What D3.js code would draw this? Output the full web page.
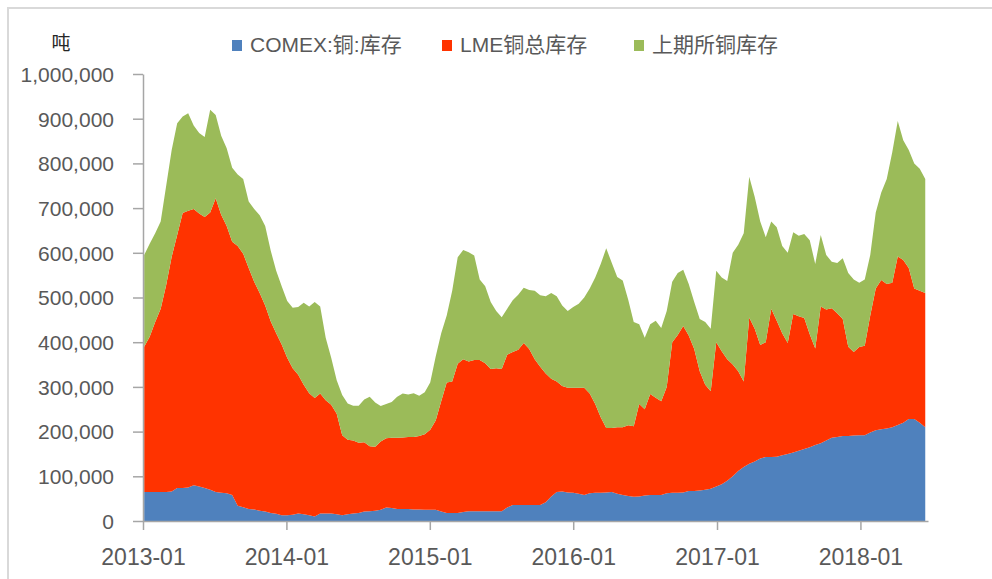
<!doctype html>
<html>
<head>
    <meta charset="utf-8">
    <style>
        body { margin: 0; background: #fff; }
        svg text { font-family: "Liberation Sans", "Noto Sans CJK SC", sans-serif; fill: #595959; }
        .axis path, .axis line { stroke: #a6a6a6; stroke-width: 1.5; }
    </style>
    <script src="https://d3js.org/d3.v7.min.js"></script>
</head>
<body>
    <svg width="992" height="579"></svg>
    <script>
        // biweekly samples starting 2013-01-04, values in thousand tonnes
        var startDate = new Date(2013, 0, 4);
        var comex = [65,65,65,65,65,66,74,74,75,80, 77,74,70,65,63,62,58,34,31,27,
            26,23,21,18,16,13,13,14,17,15, 13,10,17,17,17,15,13,15,17,18,
            21,22,23,25,30,29,27,27,27,26, 26,25,25,25,21,18,18,18,20,22,
            22,22,22,22,22,22,30,36,36,36, 36,36,36,42,55,65,66,64,63,61,
            58,62,63,63,64,65,61,58,56,54, 55,57,58,58,58,62,63,63,64,67,
            67,68,70,72,77,82,90,100,112,121, 128,133,140,143,143,144,147,150,153,157,
            161,165,170,174,180,186,188,190,190,191, 192,192,198,203,205,207,210,215,220,228,
            228,220,210];
        var lme = [325,347,380,410,463,525,566,615,619,618, 611,606,620,657,622,598,567,581,567,539,
            509,487,461,429,404,382,352,328,310,290, 273,265,268,253,243,225,179,167,163,157,
            155,145,143,153,155,157,159,160,161,162, 164,169,179,200,247,292,294,334,342,335,
            338,338,331,318,320,318,342,342,347,362, 349,326,309,288,263,247,236,234,235,237,
            240,223,199,169,144,143,149,152,158,158, 207,193,226,218,210,238,337,353,372,348,
            318,267,235,218,323,298,272,250,223,191, 327,297,254,257,332,304,273,248,310,301,
            293,253,216,306,293,290,277,262,200,187, 197,200,262,317,334,323,323,377,364,338,
            292,295,300];
        var shfe = [205,208,199,195,222,239,250,216,218,187, 180,179,230,186,177,174,165,160,167,149,
            163,174,178,158,140,130,127,135,152,183, 194,215,195,140,105,75,90,81,78,83,
            96,111,99,79,77,80,92,98,95,98, 90,94,106,143,152,150,203,238,244,244,
            234,180,172,150,128,116,103,116,123,124, 132,153,160,173,192,191,180,172,181,188,
            202,235,283,343,402,370,336,328,281,233, 178,160,156,172,164,170,135,139,126,115,
            105,117,140,140,160,165,175,250,283,332, 315,295,276,235,195,209,195,202,183,180,
            188,210,189,160,122,104,112,136,165,162, 144,148,135,170,196,235,292,303,268,264,
            280,273,255];
        var seriesNames = ["COMEX:铜:库存", "LME铜总库存", "上期所铜库存"];
        var colors = ["#4f81bd", "#ff3300", "#9bbb59"];
        var yTicks = [0, 100000, 200000, 300000, 400000, 500000, 600000, 700000, 800000, 900000, 1000000];
        var xTickYears = [2013, 2014, 2015, 2016, 2017, 2018];

        var svg = d3.select("svg");

        // outer chart frame
        svg.append("rect")
            .attr("x", 8).attr("y", 8)
            .attr("width", 1000).attr("height", 600)
            .attr("fill", "none")
            .attr("stroke", "#d9d9d9")
            .attr("stroke-width", 2);

        var table = comex.map(function (d, i) {
            return {
                date: d3.timeDay.offset(startDate, 14 * i),
                comex: comex[i] * 1000,
                lme: lme[i] * 1000,
                shfe: shfe[i] * 1000
            };
        });

        var x = d3.scaleTime()
            .domain([new Date(2013, 0, 1), new Date(2018, 5, 22)])
            .range([143, 928]);
        var y = d3.scaleLinear()
            .domain([0, 1000000])
            .range([521, 74]);

        var stack = d3.stack().keys(["comex", "lme", "shfe"]);
        var layers = stack(table);

        var area = d3.area()
            .x(function (d) { return x(d.data.date); })
            .y0(function (d) { return y(d[0]); })
            .y1(function (d) { return y(d[1]); });

        svg.append("g").selectAll("path")
            .data(layers)
            .enter().append("path")
            .attr("fill", function (d, i) { return colors[i]; })
            .attr("d", area);

        // y axis
        var yAxis = svg.append("g")
            .attr("class", "axis")
            .attr("transform", "translate(143,0)")
            .call(d3.axisLeft(y).tickValues(yTicks).tickFormat(d3.format(",")).tickSize(10).tickSizeOuter(0).tickPadding(19));
        yAxis.selectAll("text").style("font-size", "21px").attr("dy", "0.35em");

        // x axis
        var xAxis = svg.append("g")
            .attr("class", "axis")
            .attr("transform", "translate(0,521)")
            .call(d3.axisBottom(x)
                .tickValues(xTickYears.map(function (yr) { return new Date(yr, 0, 1); }))
                .tickFormat(d3.timeFormat("%Y-%m"))
                .tickSize(9).tickSizeOuter(0).tickPadding(19));
        xAxis.selectAll("text").style("font-size", "23px");

        // unit label
        svg.append("text")
            .attr("x", 61).attr("y", 45)
            .attr("text-anchor", "middle")
            .attr("dominant-baseline", "middle")
            .style("font-family", "'Noto Sans CJK SC'")
            .style("font-size", "19px")
            .style("fill", "#262626")
            .text("吨");

        // legend
        var legendX = [232, 442, 634];
        var legend = svg.append("g");
        seriesNames.forEach(function (name, i) {
            legend.append("rect")
                .attr("x", legendX[i]).attr("y", 40)
                .attr("width", 10).attr("height", 11)
                .attr("fill", colors[i]);
            legend.append("text")
                .attr("x", legendX[i] + 18).attr("y", 46)
                .attr("dominant-baseline", "middle")
                .style("font-size", "21px")
                .text(name);
        });
    </script>
</body>
</html>
